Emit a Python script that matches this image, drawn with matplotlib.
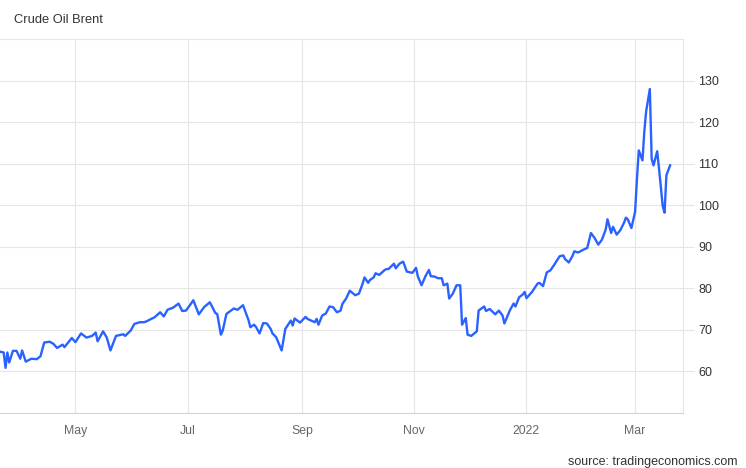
import numpy as np
import pandas as pd
import matplotlib
matplotlib.use("Agg")
import matplotlib.pyplot as plt
import matplotlib.dates as mdates

plt.rcParams['font.family'] = ['Liberation Sans', 'DejaVu Sans']

# days since 2021-03-21 and Brent close (USD/bbl)
start = pd.Timestamp('2021-03-21')
day_offset = [0, 2, 3, 4, 5, 7, 9, 11, 12, 14, 17, 20, 22, 24, 27, 29, 31, 34, 35, 39,
              41, 44, 47, 50, 52, 53, 56, 58, 60, 63, 67, 68, 71, 73, 76, 78, 79, 84, 87, 89,
              91, 94, 97, 99, 101, 103, 105, 108, 111, 114, 117, 118, 120, 121, 123, 127, 129, 132, 134, 135,
              136, 138, 139, 141, 143, 145, 147, 148, 150, 153, 155, 158, 159, 160, 163, 166, 167, 169, 171, 172,
              173, 175, 177, 179, 181, 183, 185, 186, 188, 190, 193, 195, 197, 198, 200, 201, 203, 204, 206, 209,
              210, 211, 214, 215, 217, 219, 221, 224, 226, 227, 229, 231, 233, 234, 236, 238, 240, 241, 243, 244,
              246, 248, 250, 251, 253, 254, 256, 259, 260, 263, 264, 266, 269, 271, 273, 274, 277, 279, 280, 282,
              284, 285, 286, 289, 292, 293, 295, 297, 299, 301, 304, 306, 307, 309, 311, 312, 314, 317, 319, 321,
              323, 325, 327, 329, 330, 332, 333, 335, 337, 339, 340, 341, 343, 345, 346, 347, 349, 350, 351, 353,
              354, 355, 357, 358, 360, 361, 362, 364]
price = [64.7, 64.5, 60.8, 64.5, 62.1, 64.9, 64.9, 63.0, 65.0, 62.3, 63.0, 62.9, 63.6, 66.9, 67.1, 66.6, 65.6, 66.4, 65.8, 68.0,
         67.0, 69.1, 68.1, 68.5, 69.3, 67.2, 69.6, 68.1, 65.0, 68.5, 68.9, 68.5, 69.8, 71.4, 71.8, 71.8, 71.9, 73.0, 74.2, 73.2,
         74.8, 75.3, 76.3, 74.5, 74.6, 75.8, 77.1, 73.7, 75.5, 76.6, 74.0, 73.8, 68.8, 69.8, 73.8, 75.1, 74.8, 75.9, 73.5, 72.3,
         70.6, 71.2, 70.7, 69.1, 71.6, 71.5, 70.2, 69.1, 68.2, 65.0, 70.2, 72.2, 71.0, 72.7, 71.7, 73.1, 72.6, 72.2, 71.8, 72.6,
         71.2, 73.4, 73.9, 75.6, 75.4, 74.2, 74.6, 76.2, 77.5, 79.4, 78.3, 78.7, 81.1, 82.6, 81.3, 82.0, 82.6, 83.6, 83.2, 84.4,
         84.6, 84.6, 85.9, 84.8, 85.9, 86.4, 84.0, 83.7, 84.9, 82.8, 80.7, 82.8, 84.4, 82.9, 82.8, 82.4, 82.4, 80.7, 81.1, 77.5,
         78.7, 80.7, 80.7, 71.2, 72.8, 68.8, 68.5, 69.6, 74.6, 75.6, 74.5, 75.0, 73.7, 74.6, 73.4, 71.5, 74.7, 76.3, 75.6, 77.8,
         78.5, 79.1, 77.6, 79.1, 81.1, 81.3, 80.5, 83.8, 84.3, 85.6, 87.7, 87.9, 87.0, 86.2, 87.8, 88.9, 88.6, 89.3, 89.7, 93.3,
         92.1, 90.5, 91.7, 94.1, 96.6, 93.3, 94.8, 92.9, 94.0, 95.8, 97.0, 96.6, 94.5, 98.4, 106.3, 113.2, 110.8, 117.7, 122.6, 128.0,
         111.2, 109.6, 113.0, 108.8, 99.8, 98.2, 107.2, 109.6]

tick_dates = ['2021-05-01', '2021-07-01', '2021-09-01', '2021-11-01', '2022-01-01', '2022-03-01']
tick_labels = ['May', 'Jul', 'Sep', 'Nov', '2022', 'Mar']
y_ticks = [60, 70, 80, 90, 100, 110, 120, 130]

dates = start + pd.to_timedelta(day_offset, unit='D')

fig = plt.figure(figsize=(7.46, 4.68), dpi=100)
ax = fig.add_axes([0.0, 0.1182, 0.9155, 0.798])

grid_c = '#e6e6e6'
for v in range(50, 141, 10):
    ax.axhline(v, color=grid_c, lw=0.8, zorder=0)
for d in tick_dates:
    ax.axvline(pd.Timestamp(d), color=grid_c, lw=0.8, zorder=0)

ax.plot(dates, price, color='#2962ff', lw=1.7, solid_joinstyle='round', zorder=3)

ax.set_xlim(start, start + pd.Timedelta(days=371))
ax.set_ylim(50, 140)

ax.set_xticks(pd.to_datetime(tick_dates))
ax.set_xticklabels(tick_labels)
ax.tick_params(axis='x', length=0, pad=9, labelsize=8.8, labelcolor='#666666')

ax.yaxis.tick_right()
ax.set_yticks(y_ticks)
ax.tick_params(axis='y', length=8, width=0.8, color=grid_c, pad=3,
               labelsize=9, labelcolor='#333333')

for s in ['left', 'top']:
    ax.spines[s].set_visible(False)
ax.spines['right'].set_color(grid_c)
ax.spines['right'].set_linewidth(0.8)
ax.spines['bottom'].set_color('#ccd6eb')
ax.spines['bottom'].set_linewidth(0.8)

fig.text(0.019, 0.957, 'Crude Oil Brent', fontsize=9.3, color='#333333', va='center', ha='left')
fig.text(0.988, 0.0135, 'source: tradingeconomics.com', fontsize=9, color='#333333',
         va='center', ha='right')

fig.savefig('out.png', dpi=100)
